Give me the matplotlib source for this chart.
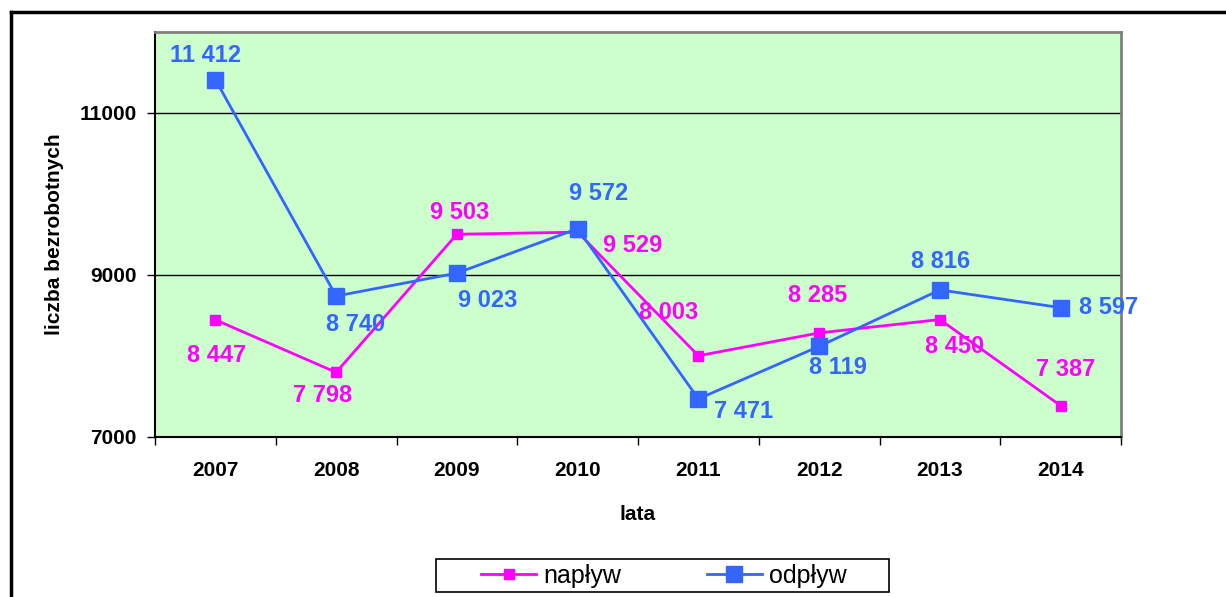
import matplotlib
matplotlib.use("Agg")
import matplotlib.pyplot as plt
from matplotlib.lines import Line2D
from matplotlib.patches import Rectangle

# data
lata    = ["2007", "2008", "2009", "2010", "2011", "2012", "2013", "2014"]
naplyw  = [8447, 7798, 9503, 9529, 8003, 8285, 8450, 7387]
odplyw  = [11412, 8740, 9023, 9572, 7471, 8119, 8816, 8597]

# label offsets in pixels (dx, dy)
off_nap = [(1, -36), (-14, -23), (3, 22), (55, -13), (-30, 43), (-1, 37), (15, -27), (5, 36)]
off_odp = [(-10, 24), (19, -28), (31, -27), (21, 35), (45, -13), (19, -21), (1, 28), (48, 0)]

plt.rcParams['font.family'] = ['Liberation Sans', 'DejaVu Sans']

W, H = 1226, 597
fig = plt.figure(figsize=(W/100, H/100), dpi=100)
ax = fig.add_axes([155/W, 1-437/H, 966/W, 405/H])
ax.set_facecolor('#CCFFCC')

x = list(range(len(lata)))
c_nap = '#FF00FF'
c_odp = '#3366FF'

ax.plot(x, naplyw, color=c_nap, linewidth=2, marker='s', markersize=7, label='napływ', zorder=3)
ax.plot(x, odplyw, color=c_odp, linewidth=2, marker='s', markersize=11, label='odpływ', zorder=4)

def fmt(v):
	return "{:,}".format(v).replace(",", " ")

for i, v in enumerate(naplyw):
	ax.annotate(fmt(v), (i, v), xytext=off_nap[i], textcoords='offset pixels',
		ha='center', va='center', color=c_nap, fontsize=17, fontweight='bold', zorder=5)
for i, v in enumerate(odplyw):
	ax.annotate(fmt(v), (i, v), xytext=off_odp[i], textcoords='offset pixels',
		ha='center', va='center', color=c_odp, fontsize=17, fontweight='bold', zorder=5)

ax.set_xlim(-0.5, len(lata)-0.5)
ax.set_ylim(7000, 12000)
ax.set_yticks([7000, 9000, 11000])
ax.set_yticklabels(["7000", "9000", "11000"], fontsize=15, fontweight='bold')
ax.set_xticks(x)
ax.set_xticklabels(lata, fontsize=15, fontweight='bold')
ax.set_xticks([i - 0.5 for i in range(len(lata)+1)], minor=True)
ax.tick_params(axis='x', which='major', length=0, pad=17)
ax.tick_params(axis='x', which='minor', length=6, width=1, direction='out')
ax.tick_params(axis='y', length=6, width=1, direction='out', pad=7)
ax.grid(axis='y', color='black', linewidth=1)
ax.set_axisbelow(True)

for s in ['top', 'right']:
	ax.spines[s].set_color('#808080')
	ax.spines[s].set_linewidth(2)
for s in ['left', 'bottom']:
	ax.spines[s].set_color('black')
	ax.spines[s].set_linewidth(1.5)

ax.set_xlabel("lata", fontsize=15, fontweight='bold', labelpad=18)
ax.set_ylabel("liczba bezrobotnych", fontsize=15, fontweight='bold', labelpad=11)

leg = fig.legend(loc='center', bbox_to_anchor=(664/W, 1-576/H), ncol=2, frameon=False,
	fontsize=18, handlelength=2.2, columnspacing=3.4, borderpad=0, handletextpad=0.3)
fig.add_artist(Rectangle((436/W, 1-592/H), 453/W, 33/H, transform=fig.transFigure,
	facecolor='none', edgecolor='black', linewidth=1.2))

# outer frame
fig.add_artist(Line2D([11/W, 11/W], [0, 1-12/H], color='black', linewidth=2.5, transform=fig.transFigure))
fig.add_artist(Line2D([11/W, 1], [1-12/H, 1-12/H], color='black', linewidth=2.5, transform=fig.transFigure))

fig.savefig("out.png", dpi=100)
